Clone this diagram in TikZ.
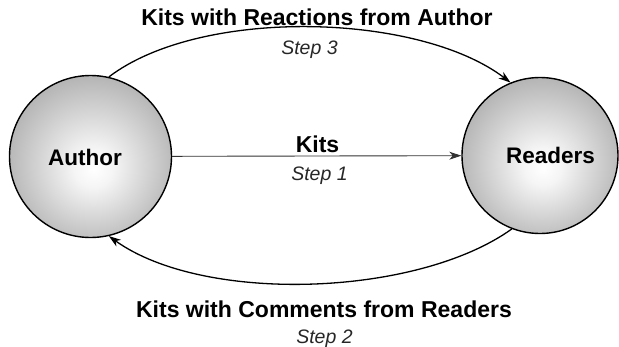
\documentclass[tikz,border=0pt]{standalone}
\usepackage{fontspec}
\setmainfont{Liberation Sans}
\usetikzlibrary{arrows.meta}
\pgfdeclareradialshading{partyshade}{\pgfpoint{1bp}{-4bp}}{color(0bp)=(white); color(6bp)=(black!4); color(30bp)=(black!33); color(50bp)=(black!33)}
\tikzset{
	party/.style={circle,draw,line width=1.4pt,shading=partyshade,minimum size=#1,inner sep=0pt},
	partyname/.style={font=\bfseries\fontsize{22.5}{26}\selectfont,anchor=base},
	flowname/.style={font=\bfseries\fontsize{23}{26}\selectfont,anchor=base},
	stepname/.style={font=\itshape\fontsize{19.5}{22}\selectfont,text=black!85,anchor=base},
	flow/.style={line width=1.3pt,-{Stealth[length=12pt,width=8pt,inset=3.5pt]}}
}
\begin{document}
\begin{tikzpicture}[x=1pt,y=-1pt]
		\useasboundingbox (0,0) rectangle (619,346);
		\node[party=162pt] (A) at (90.5,156.5) {};
		\node[party=156pt] (R) at (540,155.5) {};
		\node[partyname] (Aname) at (85,165) {Author};
		\node[partyname] (Rname) at (550.5,163) {Readers};
		% step 1
		\draw[flow,line width=0.9pt,draw=black!80] (A) -- (R);
		\node[flowname] (kits) at (317.5,152) {Kits};
		\node[stepname] (s1) at (319.5,180) {Step 1};
		% step 3
		\draw[flow] (A.77) .. controls +(92,-70) and +(-92,-70) .. (R.112);
		\node[flowname] (reactions) at (317,25) {Kits with Reactions from Author};
		\node[stepname] (s3) at (309.5,54) {Step 3};
		% step 2
		\draw[flow] (R.249) .. controls +(-95,68) and +(95,68) .. (A.283);
		\node[flowname] (comments) at (324,317) {Kits with Comments from Readers};
		\node[stepname] (s2) at (324.5,343) {Step 2};
	\end{tikzpicture}
\end{document}
